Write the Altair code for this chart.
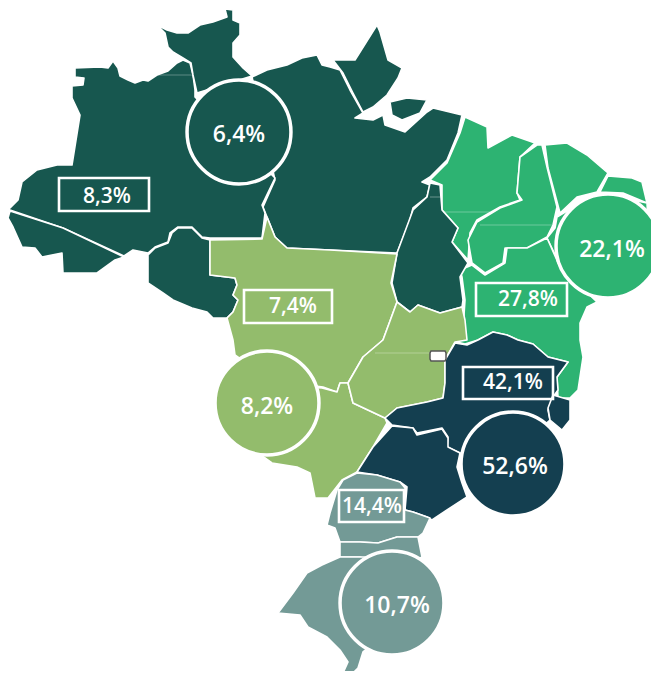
import altair as alt

NORTH, NE, CW, SE, SOUTH = "#17574F", "#2DB372", "#93BC6C", "#143F50", "#739A96"

amazonas = [(75,68),(100,67),(108,68),(113,61),(118,68),(120,76),(128,80),(135,83),(143,80),(148,81),(157,75),(168,71),(177,63),(183,60),(190,63),(193,75),(195,90),(195,97),(275,178),(262,205),(265,213),(262,238),(210,238),(202,237),(192,227),(178,227),(170,233),(168,242),(155,247),(148,253),(133,250),(124,256),(63,228),(10,210),(8,210),(18,200),(22,182),(37,170),(57,165),(72,165),(80,115),(72,98),(72,86),(83,85),(84,78),(75,77)]
roraima = [(157,25),(167,30),(177,33),(188,33),(200,25),(213,22),(227,17),(225,9),(233,10),(233,20),(240,23),(240,35),(233,43),(233,57),(243,68),(252,76),(197,93),(193,75),(191,63),(183,58),(173,52),(168,47),(165,33)]
acre = [(10,211),(8,218),(13,227),(22,247),(35,248),(42,257),(62,253),(63,273),(97,273),(115,260),(124,257),(63,228)]
rondonia = [(148,255),(155,248),(168,243),(172,233),(178,228),(192,228),(202,238),(210,240),(210,275),(235,278),(237,285),(233,295),(238,300),(233,312),(227,318),(213,318),(207,312),(192,308),(173,300),(163,293),(148,283),(148,267)]
para = [(252,77),(267,70),(287,65),(302,58),(317,55),(322,65),(330,67),(340,70),(350,90),(363,113),(355,118),(373,120),(383,115),(385,125),(405,132),(427,112),(433,108),(462,115),(458,133),(447,160),(430,177),(422,182),(430,185),(427,197),(413,208),(410,220),(397,253),(330,250),(287,248),(275,237),(267,217),(263,207),(275,180)]
amapa = [(333,60),(355,60),(377,25),(380,32),(388,60),(402,68),(398,78),(387,95),(373,107),(363,112),(353,93),(343,73)]
marajo = [(390,102),(407,98),(427,100),(420,113),(402,120),(392,115)]
tocantins = [(430,183),(440,185),(442,210),(458,228),(452,242),(468,263),(460,277),(463,300),(462,307),(440,313),(418,305),(410,312),(397,302),(392,283),(397,253),(413,210),(427,197)]
maranhao = [(465,117),(487,127),(488,148),(512,135),(535,143),(520,157),(517,193),(520,200),(500,207),(477,220),(470,233),(468,260),(452,242),(458,228),(442,210),(442,185),(430,180),(447,163),(460,133)]
piaui = [(542,145),(547,167),(557,207),(553,225),(547,237),(527,248),(505,248),(503,263),(485,273),(472,263),(468,240),(477,222),(500,208),(522,200),(517,193),(520,157),(537,145)]
ceara = [(545,145),(567,143),(587,155),(608,173),(597,192),(577,197),(560,213),(548,168)]
rn = [(608,176),(632,178),(642,182),(647,203),(623,193),(600,192)]
pernambuco = [(557,217),(597,193),(647,203),(650,260),(600,300),(560,265),(547,238),(555,228)]
bahia = [(460,270),(472,265),(485,275),(505,263),(507,248),(527,248),(547,238),(560,267),(597,302),(587,307),(580,323),(580,340),(583,357),(578,390),(570,398),(558,398),(557,377),(568,362),(548,357),(533,344),(518,340),(507,335),(493,332),(478,340),(465,344),(457,342),(463,330),(465,300),(462,277)]
mt = [(210,240),(262,239),(267,217),(275,237),(287,248),(330,250),(397,254),(391,283),(397,302),(383,340),(363,357),(348,383),(340,383),(337,392),(323,387),(270,380),(235,355),(233,340),(227,318),(233,312),(238,300),(233,295),(237,285),(235,278),(210,275)]
ms = [(322,388),(337,392),(340,383),(348,383),(353,403),(385,418),(387,423),(373,447),(357,472),(342,480),(328,498),(315,498),(310,473),(297,467),(272,463),(240,440),(240,400),(270,385)]
goias = [(397,302),(410,312),(418,305),(440,313),(462,307),(465,320),(467,340),(455,342),(445,360),(445,383),(443,398),(427,402),(397,408),(385,418),(353,403),(348,383),(363,357),(383,340)]
mg = [(455,343),(467,345),(478,340),(493,332),(507,335),(518,340),(533,344),(548,357),(568,362),(557,377),(558,390),(553,397),(548,410),(550,420),(510,455),(460,453),(447,447),(448,437),(442,428),(417,433),(413,428),(392,425),(385,418),(397,408),(427,402),(443,398),(445,383),(445,360)]
es = [(553,395),(570,400),(570,420),(562,430),(550,420),(548,408)]
sp = [(392,426),(413,428),(417,435),(442,429),(448,438),(448,447),(460,453),(457,467),(462,483),(467,497),(447,510),(432,520),(427,517),(413,512),(405,510),(407,487),(400,482),(377,475),(357,472),(373,447)]
pr = [(357,473),(377,475),(400,482),(405,488),(405,510),(413,512),(430,518),(423,533),(418,537),(397,537),(378,543),(360,542),(340,542),(335,528),(327,525),(330,513),(337,490),(343,480)]
sc = [(340,542),(360,542),(378,543),(397,537),(418,537),(422,557),(400,570),(360,557),(340,557)]
rs = [(322,565),(340,557),(360,557),(400,557),(420,600),(400,623),(363,652),(358,668),(347,679),(343,673),(348,662),(340,650),(327,637),(308,627),(300,615),(278,613),(293,593),(307,573)]
df_box = [(431,351),(445,351),(446,353),(446,359),(445,361),(431,361),(430,359),(430,353)]

regions = [
    (para, NORTH), (amazonas, NORTH), (roraima, NORTH), (acre, NORTH), (rondonia, NORTH),
    (amapa, NORTH), (marajo, NORTH), (maranhao, NE), (piaui, NE), (ceara, NE), (rn, NE),
    (pernambuco, NE), (bahia, NE), (tocantins, NORTH), (mt, CW), (ms, CW), (goias, CW),
    (mg, SE), (es, SE), (sp, SE), (pr, SOUTH), (sc, SOUTH), (rs, SOUTH),
]

faint_lines = [[(155,75),(193,75)], [(430,197),(442,197)], [(443,212),(490,212)], [(480,225),(553,225)], [(375,353),(430,353)]]

box_labels = ["8,3%", "7,4%", "27,8%", "42,1%", "14,4%"]
box_left = [59, 244, 476, 463, 339]
box_right = [149, 332, 567, 553, 404]
box_top = [178, 290, 283, 367, 490]
box_bottom = [211, 323, 316, 399, 522]
box_text_x = [107, 293, 528, 513, 372]
box_text_y = [197, 307, 300, 383, 507]

circle_labels = ["6,4%", "22,1%", "8,2%", "52,6%", "10,7%"]
circle_x = [239, 608, 267, 513, 392]
circle_y = [132, 246, 403, 464, 603]
circle_fill = [NORTH, NE, CW, SE, SOUTH]
circle_text_x = [239, 612, 267, 515, 397]
circle_text_y = [135, 250, 407, 467, 606]


def poly(pts, **props):
    ring = [list(p) for p in pts] + [list(pts[0])]
    return {"type": "Feature", "properties": props, "geometry": {"type": "Polygon", "coordinates": [ring]}}


def line(pts):
    return {"type": "Feature", "properties": {}, "geometry": {"type": "LineString", "coordinates": [list(p) for p in pts]}}


region_features = [poly(p, color=c) for p, c in regions]
line_features = [line(p) for p in faint_lines]
box_features = [
    poly([(l, t), (r, t), (r, b), (l, b)])
    for l, r, t, b in zip(box_left, box_right, box_top, box_bottom)
]

map_layer = alt.Chart(alt.Data(values=region_features)).mark_geoshape(
    stroke="white", strokeWidth=1.6, strokeJoin="round"
).encode(fill=alt.Fill("properties.color:N", scale=None))

faint_layer = alt.Chart(alt.Data(values=line_features)).mark_geoshape(
    filled=False, stroke="white", strokeOpacity=0.3, strokeWidth=1.2
)

df_layer = alt.Chart(alt.Data(values=[poly(df_box)])).mark_geoshape(
    fill="white", stroke="#555555", strokeWidth=1.5
)

box_layer = alt.Chart(alt.Data(values=box_features)).mark_geoshape(
    filled=False, stroke="white", strokeWidth=2.6
)

box_text = alt.Chart(alt.Data(values=[
    {"t": t, "x": x, "y": y} for t, x, y in zip(box_labels, box_text_x, box_text_y)
])).mark_text(font="Open Sans", fontWeight=600, fontSize=21, color="white", baseline="middle").encode(
    longitude="x:Q", latitude="y:Q", text="t:N"
)

circle_layer = alt.Chart(alt.Data(values=[
    {"x": x, "y": y, "c": c} for x, y, c in zip(circle_x, circle_y, circle_fill)
])).mark_circle(size=10800, opacity=1, stroke="white", strokeWidth=3.5).encode(
    longitude="x:Q", latitude="y:Q", fill=alt.Fill("c:N", scale=None)
)

circle_text = alt.Chart(alt.Data(values=[
    {"t": t, "x": x, "y": y} for t, x, y in zip(circle_labels, circle_text_x, circle_text_y)
])).mark_text(font="Open Sans", fontWeight=600, fontSize=23, color="white", baseline="middle").encode(
    longitude="x:Q", latitude="y:Q", text="t:N"
)

chart = alt.layer(
    map_layer, faint_layer, df_layer, circle_layer, box_layer, box_text, circle_text
).project(type="identity", scale=1, translate=[-8, -8]).properties(
    width=643, height=663, padding=0
).configure_view(stroke=None)

chart.save("out.html", embed_options={"renderer": "svg", "actions": False})
